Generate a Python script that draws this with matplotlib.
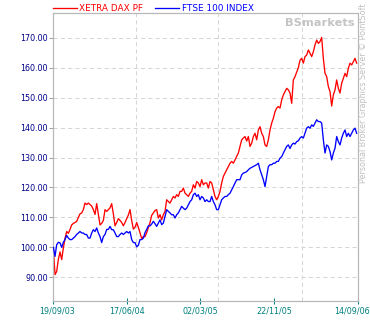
import numpy as np
import matplotlib
matplotlib.use("Agg")
import matplotlib.pyplot as plt
from matplotlib.transforms import ScaledTranslation

# XETRA DAX PF and FTSE 100 INDEX, both rebased to 100
dax = [
    99.8, 90.9, 92.0, 96.0, 98.5, 95.9, 99.8, 103.0, 105.3, 104.7,
    106.0, 107.5, 108.0, 108.3, 108.7, 110.0, 111.2, 111.5, 112.6, 114.8,
    114.3, 114.8, 114.3, 113.8, 112.6, 111.0, 114.6, 111.0, 107.5, 108.0,
    109.0, 112.6, 112.0, 112.6, 113.2, 114.6, 111.2, 107.2, 108.3, 109.6,
    109.0, 108.3, 107.2, 108.3, 109.6, 110.8, 112.6, 109.0, 106.1, 106.7,
    108.3, 106.7, 104.8, 103.0, 103.6, 103.6, 104.9, 106.6, 108.3,
    110.7, 111.5, 112.3, 112.6, 109.8, 110.9, 109.2, 110.9, 112.0, 115.9,
    115.3, 114.8, 115.9, 117.0, 116.5, 117.6, 117.0, 118.7, 118.7, 119.8,
    118.1, 117.6, 117.0, 118.1, 118.7, 120.9, 119.8, 122.0, 121.5, 120.3,
    122.6, 120.9, 121.5, 121.5, 119.8, 122.0, 121.5, 119.2, 117.0, 115.9,
    117.0, 118.7, 121.5, 123.7, 124.8, 125.9, 127.0, 128.1, 128.7, 128.1,
    129.2, 130.4, 131.5, 133.7,
    135.9, 136.5, 137.0, 135.5, 137.0, 133.7, 134.8, 137.0, 138.1, 135.9,
    139.2, 140.3, 138.1, 137.0, 134.2, 133.7, 135.9, 139.2, 141.5, 143.1,
    145.3, 146.5, 147.0, 146.5, 149.2, 150.9, 152.0, 153.1, 152.6, 151.5,
    148.1, 155.9, 157.0, 158.5, 160.0, 162.5, 163.1, 161.5, 163.7, 164.2,
    165.9, 164.8, 163.7, 165.3, 167.6, 169.2, 168.1, 168.7, 170.1, 163.1,
    158.1, 157.0, 153.7, 152.0, 147.2, 150.9, 152.6, 155.9, 153.1, 151.5,
    154.8, 156.5, 158.1, 157.0, 159.8, 161.5, 160.9, 162.0, 163.1, 161.5,
]
ftse = [
    100.0, 97.0, 100.9, 101.7, 101.5, 100.0, 101.7, 102.6, 104.0, 103.1,
    102.6, 102.6, 103.1, 103.6, 104.3, 104.8, 105.3, 104.8, 104.8, 104.3,
    104.3, 103.1, 103.1, 104.8, 105.9, 105.3, 106.5, 104.8, 103.6, 101.6,
    103.6, 104.3, 106.0, 106.0, 107.0, 105.9, 105.9, 104.8, 103.6, 103.6,
    104.3, 104.8, 104.3, 104.8, 105.3, 104.8, 105.3, 102.6, 101.6, 101.6,
    100.2, 100.7, 102.6, 102.6, 103.1, 104.9, 106.0, 107.2, 107.2,
    107.8, 108.7, 107.9, 107.0, 108.1, 109.2, 107.6, 108.1, 110.3, 112.6,
    112.0, 111.5, 110.9, 110.9, 109.8, 110.9, 111.5, 112.6, 113.7, 113.1,
    112.6, 113.1, 114.2, 115.3, 115.9, 117.6, 118.1, 117.0, 117.6, 115.9,
    117.0, 116.5, 115.3, 115.9, 115.3, 115.3, 117.0, 115.3, 114.2, 112.6,
    112.6, 114.2, 115.9, 116.5, 117.0, 117.0, 117.6, 118.1, 119.2, 120.3,
    121.5, 122.6, 122.6, 122.6,
    124.2, 124.8, 125.0, 125.3, 125.9, 126.4, 126.7, 127.0, 127.3, 127.6,
    128.1, 125.9, 124.2, 122.6, 120.3, 123.7, 127.0, 127.6, 127.6, 128.1,
    128.1, 128.7, 128.7, 129.8, 130.3, 131.5, 132.6, 133.7, 134.2, 133.0,
    134.2, 134.8, 134.5, 135.3, 135.6, 136.5, 137.0, 136.5, 138.1, 139.8,
    140.3, 139.8, 140.9, 140.4, 141.5, 142.6, 142.0, 142.0, 141.5, 135.9,
    131.5, 134.2, 133.7, 132.0, 129.2, 131.5, 133.1, 137.0, 135.3, 134.2,
    136.5, 138.1, 139.2, 137.0, 138.1, 137.0, 138.1, 139.2, 139.8, 138.1,
]
series_names = ["XETRA DAX PF", "FTSE 100 INDEX"]
y_ticks = [90, 100, 110, 120, 130, 140, 150, 160, 170]
date_labels = ["19/09/03", "17/06/04", "02/03/05", "22/11/05", "14/09/06"]

FS = 5.8
x = np.arange(len(dax))

fig = plt.figure(figsize=(3.70, 3.24), dpi=100)
ax = fig.add_axes([0.1424, 0.0719, 0.8243, 0.8871])

x0, x1 = -0.4, len(dax) - 0.4
span = x1 - x0
tick_pos = x0 + span * np.array([0.0, 0.245, 0.484, 0.727, 1.0])
vgrid_pos = x0 + span * np.array([0.274, 0.543, 0.816])

grid_kw = dict(color="#d6d6d6", lw=0.75, dashes=(4, 3), zorder=0)
for yv in y_ticks:
    ax.axhline(yv, **grid_kw)
for xv in vgrid_pos:
    ax.axvline(xv, **grid_kw)

ax.plot(x, dax, color="#ff0000", lw=0.95, label=series_names[0], zorder=2)
ax.plot(x, ftse, color="#0000ff", lw=0.95, label=series_names[1], zorder=3)

ax.set_xlim(x0, x1)
ax.set_ylim(82.2, 178.15)

ax.set_yticks(y_ticks)
ax.set_yticklabels([f"{v:.2f}" for v in y_ticks])
ax.set_xticks(tick_pos)
ax.set_xticklabels(date_labels)
ax.tick_params(axis="y", direction="out", length=3, width=0.75, color="#a0a0a0",
               labelsize=FS, labelcolor="#00008b", pad=0.5)
ax.tick_params(axis="x", direction="inout", length=4, width=0.75, color="#008080",
               labelsize=FS, labelcolor="#008080", pad=2.5)

labels = ax.get_xticklabels()
labels[0].set_transform(labels[0].get_transform() + ScaledTranslation(4.5 / 100, 0, fig.dpi_scale_trans))
labels[-1].set_transform(labels[-1].get_transform() + ScaledTranslation(-6 / 100, 0, fig.dpi_scale_trans))

for s in ax.spines.values():
    s.set_color("#b8b8b8")
    s.set_linewidth(0.9)

leg = ax.legend(loc="lower left", bbox_to_anchor=(0.0, 1.002), ncol=2, frameon=False,
                fontsize=6.4, handlelength=2.7, handletextpad=0.3, columnspacing=1.3,
                borderpad=0, borderaxespad=0, labelcolor="linecolor")

ax.text(0.99, 0.985, "BSmarkets", transform=ax.transAxes, ha="right", va="top",
        fontsize=8.2, fontweight="bold", color="#c4c4c4")
fig.text(0.982, 0.99, "Personal Broker Graphics Server \u00a9 PointSoft", rotation=90,
         ha="center", va="top", fontsize=5.8, color="#c0c0c0")

fig.savefig("out.png", dpi=100)
